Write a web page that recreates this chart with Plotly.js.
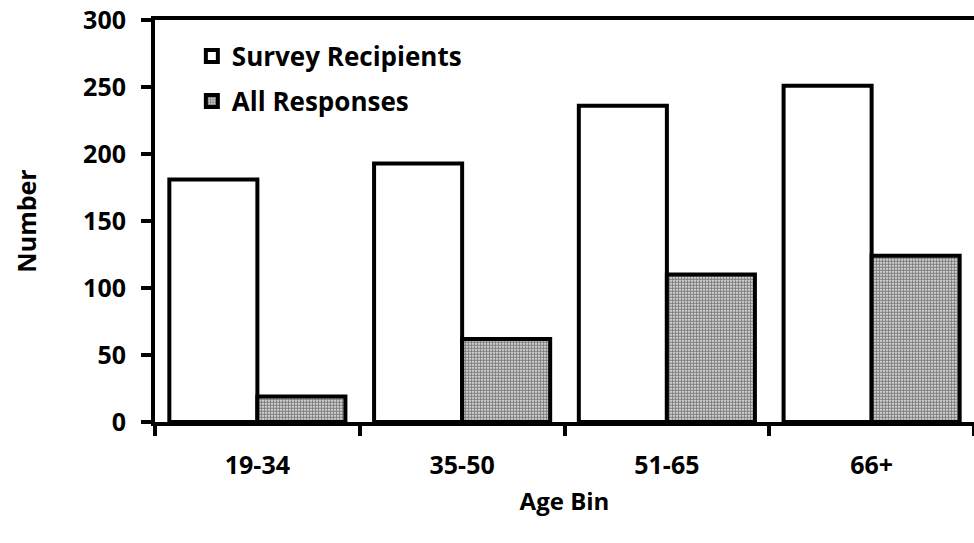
<!DOCTYPE html>
<html>
<head>
<meta charset="utf-8">
<script src="https://cdn.plot.ly/plotly-3.0.1.min.js"></script>
<style>html,body{margin:0;padding:0;background:#fff;}#chart{width:974px;height:543px;}</style>
</head>
<body>
<div id="chart"></div>
<script>
var categories = ["19-34", "35-50", "51-65", "66+"];
var recipients = [181, 193, 236, 251];
var responses = [19, 62, 110, 124];
var seriesNames = ["Survey Recipients", "All Responses"];
var yTicks = [0, 50, 100, 150, 200, 250, 300];

var FONT = "Open Sans, sans-serif";
var F = function (s) { return {family: FONT, size: s, color: "#000", weight: "bold"}; };

var traces = [
  {
    type: "bar", name: seriesNames[0], x: categories, y: recipients,
    marker: {color: "#ffffff", line: {color: "#000000", width: 4}},
    legend: "legend"
  },
  {
    type: "bar", name: seriesNames[1], x: categories, y: responses,
    marker: {color: "#ffffff", line: {color: "#000000", width: 4},
      pattern: {shape: ".", fgcolor: "#000000", bgcolor: "#ffffff", size: 3, solidity: 0.7, fillmode: "overlay"}},
    legend: "legend2"
  }
];

var legendCommon = {
  bgcolor: "rgba(0,0,0,0)", borderwidth: 0,
  font: F(26),
  xanchor: "left", yanchor: "middle", itemwidth: 30
};

var layout = {
  width: 974, height: 543,
  margin: {l: 155, r: 0, t: 20, b: 121},
  paper_bgcolor: "#ffffff", plot_bgcolor: "#ffffff",
  barmode: "group", bargap: 0.14, bargroupgap: 0,
  font: F(24),
  showlegend: true,
  legend: Object.assign({}, legendCommon, {x: 0.045, y: 0.91}),
  legend2: Object.assign({}, legendCommon, {x: 0.045, y: 0.798}),
  xaxis: {
    type: "category",
    showline: true, linecolor: "#000", linewidth: 4, mirror: true,
    ticks: "outside", tickson: "boundaries", ticklen: 10, tickwidth: 4, tickcolor: "#000",
    showgrid: false, zeroline: false,
    tickfont: F(25), ticklabelstandoff: 18,
    title: {text: "Age Bin", font: F(24), standoff: 14}
  },
  yaxis: {
    range: [0, 300], tickvals: yTicks, ticktext: yTicks.map(String),
    showline: true, linecolor: "#000", linewidth: 4,
    ticks: "outside", ticklen: 10, tickwidth: 4, tickcolor: "#000",
    showgrid: false, zeroline: false,
    tickfont: F(25), ticklabelstandoff: 10,
    title: {text: "Number", font: F(25), standoff: 40}
  }
};

Plotly.newPlot("chart", traces, layout, {displayModeBar: false, staticPlot: true});
</script>
</body>
</html>
